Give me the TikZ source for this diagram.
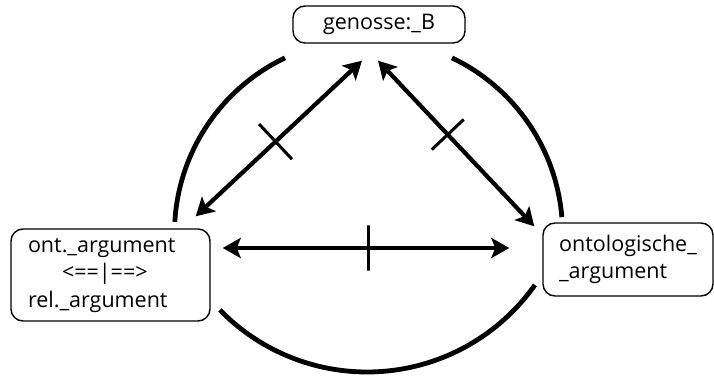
\documentclass[tikz,border=0pt]{standalone}
\usepackage{fontspec}
\setmainfont{Open Sans}
\usetikzlibrary{arrows.meta}
\begin{document}
\begin{tikzpicture}[x=1pt,y=1pt,
  box/.style={draw, line width=1.4pt, rounded corners=12pt, inner sep=0pt, font=\fontsize{21.5}{27.5}\selectfont},
  arcline/.style={line width=4.8pt},
  dbl/.style={line width=4.2pt, {Stealth[length=18pt,width=20pt,inset=4pt]}-{Stealth[length=18pt,width=20pt,inset=4pt]}},
  tickmark/.style={sloped, draw, line width=3pt, inner sep=0pt, minimum width=0pt, minimum height=#1, shape=rectangle}]
\useasboundingbox (0,0) rectangle (714,375);
\node[box, minimum width=172pt, minimum height=37pt] (top) at (379,350.5) {genosse:\_B};
\node[box, minimum width=199pt, minimum height=92pt, align=left, text width=165pt, inner xsep=17pt] (left) at (110.5,100) {ont.\_argument\\\hspace*{34pt}<==|==>\\rel.\_argument};
\node[box, minimum width=170pt, minimum height=73pt, align=left] (right) at (628,115.5) {ontologische\_\\\_argument};
\coordinate (a1t) at ([shift={(-17,-17)}]top.south);
\coordinate (a1b) at ([shift={(-15,12)}]left.north east);
\coordinate (a2t) at ([shift={(-1,-17)}]top.south);
\coordinate (a2b) at ([shift={(-8,-4)}]right.north west);
\coordinate (a3l) at ([shift={(12,27)}]left.east);
\coordinate (a3r) at ([shift={(-33,11.5)}]right.west);
\draw[dbl] (a1t) -- node[tickmark=48pt, pos=0.52] {} (a1b);
\draw[dbl] (a2t) -- node[tickmark=44pt, pos=0.446] {} (a2b);
\draw[dbl] (a3l) -- node[tickmark=45pt, pos=0.507] {} (a3r);
\draw[arcline] (368.5,142) ++(115.5:194) arc[start angle=115.5, end angle=176.7, radius=194];
\draw[arcline] (368.5,142) ++(64.5:194) arc[start angle=64.5, end angle=4.7, radius=194];
\draw[arcline] (367,208.5) ++(224.3:205.5) arc[start angle=224.3, end angle=324.8, radius=205.5];
\end{tikzpicture}
\end{document}
